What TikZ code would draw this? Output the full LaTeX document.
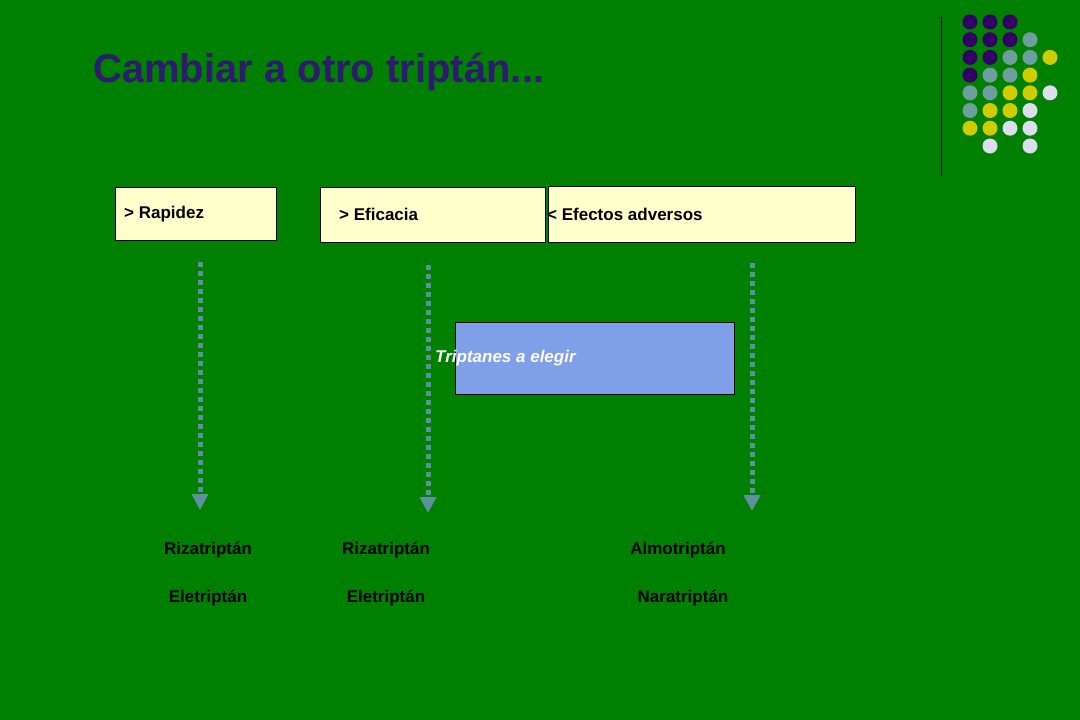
\documentclass[tikz,border=0pt]{standalone}
\usepackage{fontspec}
\setmainfont{Liberation Sans}
\usetikzlibrary{arrows.meta}
\definecolor{bg}{HTML}{008000}
\definecolor{ttl}{HTML}{2E1A6E}
\definecolor{pu}{HTML}{330066}
\definecolor{gr}{HTML}{6E9E9E}
\definecolor{ye}{HTML}{D0CC00}
\definecolor{wh}{HTML}{DDDDEE}
\definecolor{arr}{HTML}{5F90A0}
\definecolor{lbox}{HTML}{FFFFCC}
\definecolor{bbox}{HTML}{7F9FE8}
\tikzset{
 hbox/.style={draw=black,fill=lbox,anchor=north west,inner sep=0pt,font=\fontsize{17}{20}\selectfont\bfseries},
 lab/.style={font=\fontsize{17}{20}\selectfont\bfseries,inner sep=0pt},
 darr/.style={draw=arr,line width=5pt,dash pattern=on 5pt off 4pt,-{Triangle[width=16pt,length=16pt]}},
 dot/.style={circle,inner sep=0pt,minimum size=15pt}
}
\begin{document}
\begin{tikzpicture}[x=1pt,y=-1pt]
\fill[bg] (0,0) rectangle (1080,720);
\useasboundingbox (0,0) rectangle (1080,720);
\node[anchor=west,text=ttl,font=\fontsize{40}{44}\selectfont\bfseries,inner sep=0pt] (title) at (93,72) {Cambiar a otro triptán...};
\draw[black,line width=1pt] (941,17) -- (941,176);
\foreach \r/\cols in {1/{pu,pu,pu},2/{pu,pu,pu,gr},3/{pu,pu,gr,gr,ye},4/{pu,gr,gr,ye},5/{gr,gr,ye,ye,wh},6/{gr,ye,ye,wh},7/{ye,ye,wh,wh}}{
 \foreach \c [count=\i] in \cols { \node[dot,fill=\c] at (950+20*\i,22+17.7*\r-17.7) {}; }
}
\node[dot,fill=wh] at (990,146) {};
\node[dot,fill=wh] at (1030,146) {};
\node[hbox,minimum width=161pt,minimum height=53pt] (b1) at (115,187) {};
\node[lab,anchor=west] at (124,214) {> Rapidez};
\node[hbox,minimum width=225pt,minimum height=55pt] (b2) at (320,187) {};
\node[lab,anchor=west] at (339,214) {> Eficacia};
\node[hbox,minimum width=307pt,minimum height=56pt] (b3) at (548,186) {};
\node[lab,anchor=west] at (547,214) {< Efectos adversos};
\node[draw=black,fill=bbox,minimum width=279pt,minimum height=72pt,anchor=north west,inner sep=0pt] (tb) at (455,322) {};
\node[anchor=west,text=white,font=\fontsize{17}{20}\selectfont\bfseries\itshape,inner sep=0pt] at (435,358) {Triptanes a elegir};
\coordinate (a1s) at (200,262); \coordinate (a1e) at (200,510);
\coordinate (a2s) at (428,265); \coordinate (a2e) at (428,513);
\coordinate (a3s) at (752,263); \coordinate (a3e) at (752,511);
\draw[darr] (a1s) -- (a1e);
\draw[darr] (a2s) -- (a2e);
\draw[darr] (a3s) -- (a3e);
\node[lab] (l1) at (208,550) {Rizatriptán};
\node[lab] (l2) at (208,598) {Eletriptán};
\node[lab] (l3) at (386,550) {Rizatriptán};
\node[lab] (l4) at (386,598) {Eletriptán};
\node[lab] (l5) at (678,550) {Almotriptán};
\node[lab] (l6) at (683,598) {Naratriptán};
\end{tikzpicture}
\end{document}
